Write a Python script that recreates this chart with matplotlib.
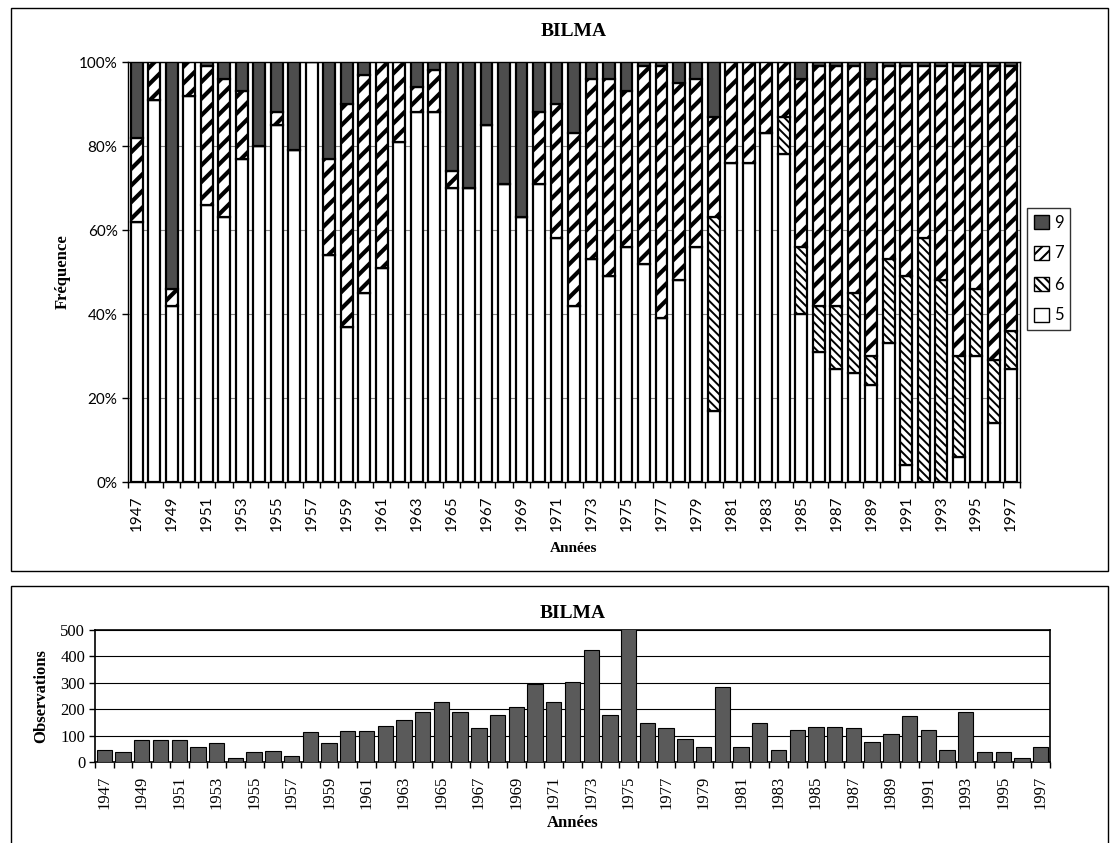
import matplotlib
matplotlib.use("Agg")
import matplotlib.pyplot as plt
from matplotlib.patches import Patch, Rectangle
import numpy as np

# BILMA - frequency of classes 5,6,7,9 per year (%), and number of observations
years = list(range(1947, 1998))
p5 = [62, 91, 42, 92, 66, 63, 77, 80, 85, 79, 100, 54, 37, 45, 51, 81, 88, 88, 70, 70,
      85, 71, 63, 71, 58, 42, 53, 49, 56, 52, 39, 48, 56, 17, 76, 76, 83, 78, 40, 31,
      27, 26, 23, 33, 4, 0, 0, 6, 30, 14, 27]
p6 = [0, 0, 0, 0, 0, 0, 0, 0, 0, 0, 0, 0, 0, 0, 0, 0, 0, 0, 0, 0,
      0, 0, 0, 0, 0, 0, 0, 0, 0, 0, 0, 0, 0, 46, 0, 0, 0, 9, 16, 11,
      15, 19, 7, 20, 45, 58, 48, 24, 16, 15, 9]
p7 = [20, 9, 4, 8, 33, 33, 16, 0, 3, 0, 0, 23, 53, 52, 49, 19, 6, 10, 4, 0,
      0, 0, 0, 17, 32, 41, 43, 47, 37, 47, 60, 47, 40, 24, 24, 24, 17, 13, 40, 57,
      57, 54, 66, 46, 50, 41, 51, 69, 53, 70, 63]
p9 = [18, 0, 54, 0, 1, 4, 7, 20, 12, 21, 0, 23, 10, 3, 0, 0, 6, 2, 26, 30,
      15, 29, 37, 12, 10, 17, 4, 4, 7, 1, 1, 5, 4, 13, 0, 0, 0, 0, 4, 1,
      1, 1, 4, 1, 1, 1, 1, 1, 1, 1, 1]
observations = [47, 38, 82, 82, 82, 57, 72, 16, 37, 42, 22, 112, 71, 116, 119, 135, 158, 189, 228, 189,
                127, 179, 207, 295, 226, 304, 424, 178, 510, 146, 129, 86, 57, 283, 55, 146, 44, 123, 133, 133,
                127, 75, 105, 174, 123, 44, 190, 38, 38, 14, 57]

x = np.arange(len(years))
tot = np.array(p5) + np.array(p6) + np.array(p7) + np.array(p9)
f5 = np.array(p5) / tot
f6 = np.array(p6) / tot
f7 = np.array(p7) / tot
f9 = np.array(p9) / tot

serif = "Liberation Serif"
sans = "Lato"

W, H = 1118, 843
fig = plt.figure(figsize=(W / 100, H / 100), dpi=100)

# panel borders
fig.add_artist(Rectangle((11 / W, 1 - 571 / H), 1097 / W, 563 / H, transform=fig.transFigure,
                         fill=False, ec="black", lw=1))
fig.add_artist(Rectangle((11 / W, -0.01), 1097 / W, 1 - 586 / H + 0.01, transform=fig.transFigure,
                         fill=False, ec="black", lw=1))

# ---------------- top chart ----------------
ax = fig.add_axes([128 / W, 1 - 482 / H, 892 / W, 420 / H])
bw = 0.68
dark = "#4d4d4d"
ax.bar(x, f5, bw, color="white", edgecolor="black", lw=1.6, zorder=3)
plt.rcParams["hatch.linewidth"] = 1.4
ax.bar(x, f6, bw, bottom=f5, color="white", edgecolor="black", hatch="\\\\\\\\", lw=1.6, zorder=3)
plt.rcParams["hatch.linewidth"] = 3.0
ax.bar(x, f7, bw, bottom=f5 + f6, color="white", edgecolor="black", hatch="//", lw=1.6, zorder=3)
ax.bar(x, f9, bw, bottom=f5 + f6 + f7, color=dark, edgecolor="black", lw=1.6, zorder=3)

ax.set_xlim(-0.5, len(years) - 0.5)
ax.set_ylim(0, 1)
ax.set_yticks(np.arange(0, 1.01, 0.2))
ax.set_yticklabels([f"{int(v * 100)}%" for v in np.arange(0, 1.01, 0.2)], fontfamily=sans, fontsize=11)
ax.yaxis.grid(True, color="#888888", lw=0.8, zorder=0)
ax.set_xticks(x[::2])
ax.set_xticklabels([str(y) for y in years[::2]], rotation=90, fontfamily=sans, fontsize=11)
ax.set_xticks(np.arange(-0.5, len(years), 1), minor=True)
ax.tick_params(axis="x", which="major", length=0, pad=10)
ax.tick_params(axis="x", which="minor", length=4, width=1)
ax.tick_params(axis="y", length=4, width=1)
for s in ax.spines.values():
    s.set_linewidth(1)
ax.set_title("BILMA", fontfamily=serif, fontweight="bold", fontsize=14, pad=19)
ax.set_ylabel("Fréquence", fontfamily=serif, fontweight="bold", fontsize=12, labelpad=6)
ax.set_xlabel("Années", fontfamily=serif, fontweight="bold", fontsize=11, labelpad=8)

plt.rcParams["hatch.linewidth"] = 1.5
handles = [Patch(facecolor=dark, edgecolor="black", label="9"),
           Patch(facecolor="white", edgecolor="black", hatch="///", label="7"),
           Patch(facecolor="white", edgecolor="black", hatch="\\\\\\\\", label="6"),
           Patch(facecolor="white", edgecolor="black", label="5")]
leg = fig.legend(handles=handles, loc="center left", bbox_to_anchor=(1027 / W, 1 - 269 / H),
                 prop={"family": sans, "size": 12}, frameon=True, fancybox=False,
                 edgecolor="black", handlelength=0.9, handleheight=0.9, handletextpad=0.3,
                 labelspacing=0.9, borderpad=0.4, borderaxespad=0)
leg.get_frame().set_linewidth(1)

# ---------------- bottom chart ----------------
ax2 = fig.add_axes([95 / W, 1 - 762 / H, 955 / W, 132 / H])
ax2.bar(x, observations, 0.82, color="#5a5a5a", edgecolor="black", lw=0.8, zorder=3)
ax2.set_xlim(-0.5, len(years) - 0.5)
ax2.set_ylim(0, 500)
ax2.set_yticks(range(0, 501, 100))
ax2.set_yticklabels([str(v) for v in range(0, 501, 100)], fontfamily=serif, fontsize=12)
ax2.yaxis.grid(True, color="black", lw=0.8, zorder=0)
ax2.set_xticks(x[::2])
ax2.set_xticklabels([str(y) for y in years[::2]], rotation=90, fontfamily=serif, fontsize=12)
ax2.set_xticks(np.arange(-0.5, len(years), 1), minor=True)
ax2.tick_params(axis="x", which="major", length=0, pad=10)
ax2.tick_params(axis="x", which="minor", length=4, width=1)
ax2.tick_params(axis="y", length=4, width=1, pad=3)
for s in ax2.spines.values():
    s.set_linewidth(1.2)
ax2.set_title("BILMA", fontfamily=serif, fontweight="bold", fontsize=14, pad=9)
ax2.set_ylabel("Observations", fontfamily=serif, fontweight="bold", fontsize=12, labelpad=8)
ax2.set_xlabel("Années", fontfamily=serif, fontweight="bold", fontsize=12, labelpad=4)

fig.savefig("out.png", dpi=100)
